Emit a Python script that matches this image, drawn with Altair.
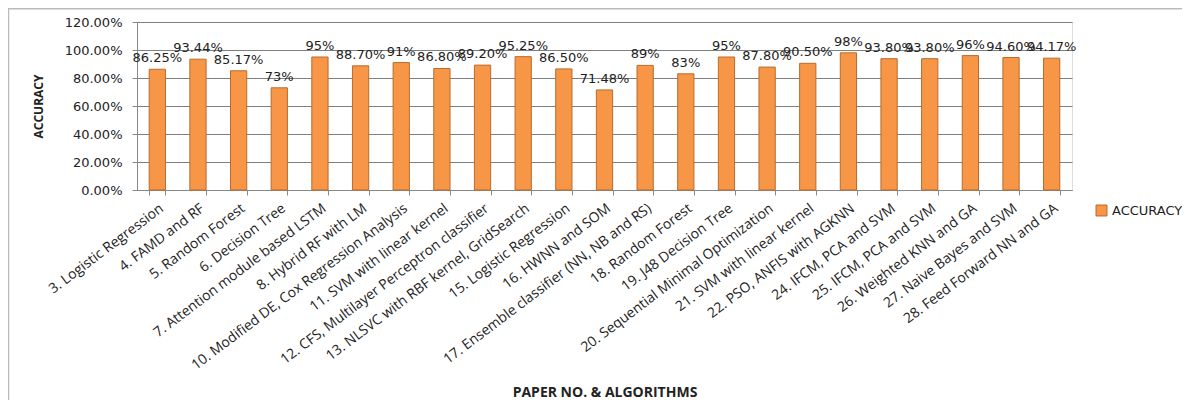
import altair as alt
import pandas as pd

categories = [
    "3. Logistic Regression", "4. FAMD and RF", "5. Random Forest", "6. Decision Tree",
    "7. Attention module based LSTM", "8. Hybrid RF with LM",
    "10. Modified DE, Cox Regression Analysis", "11. SVM with linear kernel",
    "12. CFS, Multilayer Perceptron classifier", "13. NLSVC with RBF kernel, GridSearch",
    "15. Logistic Regression", "16. HWNN and SOM", "17. Ensemble classifier (NN, NB and RS)",
    "18. Random Forest", "19. J48  Decision Tree", "20. Sequential Minimal Optimization",
    "21. SVM with linear kernel", "22. PSO, ANFIS with AGKNN", "24. IFCM, PCA and SVM",
    "25. IFCM, PCA and SVM", "26. Weighted KNN and GA", "27. Naive Bayes and SVM",
    "28. Feed Forward NN and GA",
]
accuracy = [0.8625, 0.9344, 0.8517, 0.73, 0.95, 0.8870, 0.91, 0.8680, 0.8920, 0.9525,
            0.8650, 0.7148, 0.89, 0.83, 0.95, 0.8780, 0.9050, 0.98, 0.9380, 0.9380,
            0.96, 0.9460, 0.9417]
value_labels = ["86.25%", "93.44%", "85.17%", "73%", "95%", "88.70%", "91%", "86.80%",
                "89.20%", "95.25%", "86.50%", "71.48%", "89%", "83%", "95%", "87.80%",
                "90.50%", "98%", "93.80%", "93.80%", "96%", "94.60%", "94.17%"]
y_ticks = [0, 0.2, 0.4, 0.6, 0.8, 1.0, 1.2]

df = pd.DataFrame({"cat": categories, "acc": accuracy, "lab": value_labels,
                   "series": ["ACCURACY"] * len(categories)})

x_enc = alt.X("cat:N", sort=None, title="PAPER NO. & ALGORITHMS",
              scale=alt.Scale(paddingInner=0.6, paddingOuter=0.3),
              axis=alt.Axis(labelAngle=-37, labelFont="Open Sans", labelFontSize=14,
                            labelColor="#222", labelPadding=6, labelLimit=0,
                            labelOverlap=False, tickBand="extent",
                            tickColor="#888", tickSize=5, domainColor="#888",
                            titleFont="Open Sans", titleFontSize=14, titleFontWeight="bold",
                            titleColor="#222", titleY=195, titleBaseline="top", grid=False))
y_enc = alt.Y("acc:Q", title="ACCURACY",
              scale=alt.Scale(domain=[0, 1.2], nice=False),
              axis=alt.Axis(values=y_ticks, format=".2%", labelFont="DejaVu Sans",
                            labelFontSize=13, labelColor="#222", labelPadding=10,
                            labelOverlap=False, tickColor="#888", tickSize=5,
                            domainColor="#888", gridColor="#7f7f7f", grid=True,
                            titleFont="Open Sans", titleFontSize=12, titleFontWeight="bold",
                            titleColor="#222", titleX=-92, titleY=84, titleAngle=-90))

base = alt.Chart(df).encode(x=x_enc, y=y_enc)

frame = alt.Chart(pd.DataFrame({"a": [0]})).mark_rect(
    fill="transparent", stroke="#bbbbbb", strokeWidth=1.5
).encode(x=alt.value(-128.5), x2=alt.value(1200), y=alt.value(-13.2), y2=alt.value(600))

bars = base.mark_bar(stroke="#B96B2C", strokeWidth=1).encode(
    color=alt.Color("series:N", scale=alt.Scale(range=["#F79646"]),
                    legend=alt.Legend(title=None, orient="none", legendX=958, legendY=182,
                                      symbolType="square", symbolSize=120,
                                      symbolStrokeColor="#B96B2C", symbolStrokeWidth=1,
                                      labelFont="DejaVu Sans", labelFontSize=13,
                                      labelColor="#222")),
)

texts = base.mark_text(baseline="bottom", dy=-4, font="DejaVu Sans",
                       fontSize=13, color="#222").encode(text="lab:N")

chart = alt.layer(frame, bars, texts).properties(
    width=935, height=168,
    autosize=alt.AutoSizeParams(type="none"),
    padding={"left": 129, "top": 14, "right": 110, "bottom": 210},
).configure_view(fill="#FDEEE7", stroke=None).configure(background="white")

chart.save("out.html", embed_options={"renderer": "svg", "actions": False})
